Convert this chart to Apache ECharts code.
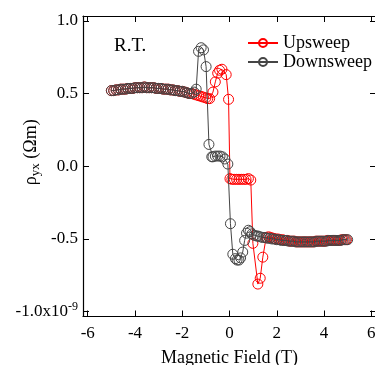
<!DOCTYPE html>
<html>
<head>
<meta charset="utf-8">
<script src="https://cdn.jsdelivr.net/npm/echarts@6/dist/echarts.min.js"></script>
<style>
	html, body { margin: 0; padding: 0; background: #fff; }
	#chart { width: 375px; height: 365px; }
</style>
</head>
<body>
<div id="chart"></div>
<script>
// values in units of 1e-9 Ohm m
const upField = [
	-5.0, -4.9, -4.8, -4.7, -4.6, -4.5, -4.4, -4.3, -4.2, -4.1,
	-4.0, -3.9, -3.8, -3.7, -3.6, -3.5, -3.4, -3.3, -3.2, -3.1,
	-3.0, -2.9, -2.8, -2.7, -2.6, -2.5, -2.4, -2.3, -2.2, -2.1,
	-2.0, -1.9, -1.8, -1.7, -1.6, -1.5, -1.4, -1.3, -1.2, -1.1,
	-1.0, -0.92, -0.84, -0.7, -0.6, -0.5, -0.42, -0.32, -0.14, -0.04,
	0.02, 0.1, 0.2, 0.3, 0.4, 0.5, 0.6, 0.7, 0.8, 0.9,
	0.99, 1.2, 1.3, 1.41, 1.55, 1.65, 1.75, 1.85, 1.95, 2.05,
	2.15, 2.25, 2.35, 2.45, 2.55, 2.65, 2.75, 2.85, 2.95, 3.05,
	3.15, 3.25, 3.35, 3.45, 3.55, 3.65, 3.75, 3.85, 3.95, 4.05,
	4.15, 4.25, 4.35, 4.45, 4.55, 4.65, 4.75, 4.85, 4.95,
]
const upRho = [
	0.52, 0.52, 0.525, 0.525, 0.53, 0.53, 0.53, 0.535, 0.535, 0.535,
	0.54, 0.54, 0.54, 0.54, 0.545, 0.54, 0.54, 0.54, 0.54, 0.535,
	0.535, 0.535, 0.53, 0.53, 0.53, 0.525, 0.525, 0.52, 0.52, 0.515,
	0.515, 0.51, 0.505, 0.5, 0.5, 0.495, 0.49, 0.485, 0.48, 0.475,
	0.47, 0.465, 0.465, 0.51, 0.58, 0.64, 0.66, 0.667, 0.63, 0.46,
	-0.085, -0.09, -0.09, -0.09, -0.09, -0.09, -0.09, -0.09, -0.085, -0.095,
	-0.53, -0.81, -0.77, -0.625, -0.49, -0.485, -0.49, -0.495, -0.5, -0.5,
	-0.505, -0.505, -0.51, -0.51, -0.515, -0.515, -0.515, -0.52, -0.52, -0.52,
	-0.52, -0.52, -0.52, -0.52, -0.52, -0.515, -0.515, -0.515, -0.515, -0.515,
	-0.51, -0.51, -0.51, -0.51, -0.51, -0.51, -0.505, -0.505, -0.505,
]

const downField = [
	5.0, 4.9, 4.8, 4.7, 4.6, 4.5, 4.4, 4.3, 4.2, 4.1,
	4.0, 3.9, 3.8, 3.7, 3.6, 3.5, 3.4, 3.3, 3.2, 3.1,
	3.0, 2.9, 2.8, 2.7, 2.6, 2.5, 2.4, 2.3, 2.2, 2.1,
	2.0, 1.9, 1.8, 1.7, 1.6, 1.5, 1.4, 1.3, 1.2, 1.15,
	1.05, 0.95, 0.87, 0.8, 0.72, 0.64, 0.56, 0.47, 0.4, 0.32,
	0.25, 0.14, 0.04, -0.07, -0.2, -0.3, -0.4, -0.5, -0.6, -0.7,
	-0.75, -0.87, -0.99, -1.1, -1.2, -1.31, -1.41, -1.5, -1.6, -1.7,
	-1.8, -1.9, -2.0, -2.1, -2.2, -2.3, -2.4, -2.5, -2.6, -2.7,
	-2.8, -2.9, -3.0, -3.1, -3.2, -3.3, -3.4, -3.5, -3.6, -3.7,
	-3.8, -3.9, -4.0, -4.1, -4.2, -4.3, -4.4, -4.5, -4.6, -4.7,
	-4.8, -4.9, -5.0,
]
const downRho = [
	-0.505, -0.505, -0.505, -0.51, -0.51, -0.51, -0.51, -0.51, -0.51, -0.515,
	-0.515, -0.515, -0.515, -0.515, -0.52, -0.52, -0.52, -0.52, -0.52, -0.52,
	-0.52, -0.52, -0.52, -0.515, -0.515, -0.515, -0.51, -0.51, -0.51, -0.505,
	-0.505, -0.5, -0.5, -0.495, -0.495, -0.49, -0.49, -0.485, -0.48, -0.48,
	-0.475, -0.465, -0.45, -0.44, -0.46, -0.51, -0.59, -0.63, -0.645, -0.645,
	-0.635, -0.605, -0.395, 0.015, 0.05, 0.065, 0.07, 0.07, 0.07, 0.065,
	0.065, 0.15, 0.685, 0.8, 0.815, 0.79, 0.53, 0.51, 0.5, 0.5,
	0.505, 0.51, 0.515, 0.515, 0.52, 0.52, 0.525, 0.525, 0.53, 0.53,
	0.53, 0.535, 0.535, 0.535, 0.54, 0.54, 0.54, 0.54, 0.545, 0.54,
	0.54, 0.54, 0.54, 0.535, 0.535, 0.535, 0.53, 0.53, 0.53, 0.525,
	0.525, 0.52, 0.52,
]

const xTicks = [-6, -4, -2, 0, 2, 4, 6]
const yTicks = [-1, -0.5, 0, 0.5, 1]

const FONT = '"Liberation Serif", "Times New Roman", serif'
const RED = '#ff0000'
const GREY = '#454545'
const CLEAR = 'rgba(255,255,255,0)'

const chart = echarts.init(document.getElementById('chart'))

const zip = (xs, ys) => xs.map((x, i) => [x, ys[i]])

const tick = { show: true, inside: true, length: 6, lineStyle: { color: '#000', width: 1 } }
const line = { show: true, onZero: false, lineStyle: { color: '#000', width: 1.2 } }

chart.setOption({
	animation: false,
	backgroundColor: '#fff',
	textStyle: { fontFamily: FONT },
	title: {
		text: 'R.T.',
		left: 109,
		top: 32,
		textStyle: { fontFamily: FONT, fontSize: 19, fontWeight: 'normal', color: '#000' },
	},
	legend: {
		orient: 'vertical',
		left: 247,
		top: 34,
		padding: 0,
		itemWidth: 30,
		itemHeight: 10,
		itemGap: 1,
		data: ['Upsweep', 'Downsweep'],
		textStyle: { fontFamily: FONT, fontSize: 18, color: '#000' },
	},
	grid: { left: 83, right: -1, top: 16, bottom: 48.5, containLabel: false, outerBoundsMode: 'none' },
	xAxis: [{
		type: 'value',
		min: -6.2,
		max: 6.2,
		position: 'bottom',
		axisLine: line,
		axisTick: Object.assign({}, tick, { customValues: xTicks }),
		splitLine: { show: false },
		axisLabel: {
			customValues: xTicks,
			margin: 9,
			fontFamily: FONT, fontSize: 17, color: '#000',
		},
		name: 'Magnetic Field (T)',
		nameLocation: 'middle',
		nameGap: 33,
		nameMoveOverlap: false,
		nameTextStyle: { fontFamily: FONT, fontSize: 18, color: '#000' },
	}, {
		type: 'value',
		min: -6.2,
		max: 6.2,
		position: 'top',
		axisLine: line,
		axisTick: Object.assign({}, tick, { customValues: xTicks }),
		axisLabel: { show: false },
		splitLine: { show: false },
	}],
	yAxis: [{
		type: 'value',
		min: -1.033,
		max: 1.033,
		position: 'left',
		axisLine: line,
		axisTick: Object.assign({}, tick, { customValues: yTicks }),
		splitLine: { show: false },
		axisLabel: {
			customValues: yTicks,
			margin: 5,
			formatter: v => v === -1 ? '{a|-1.0x10}{b|-9}' : '{a|' + v.toFixed(1) + '}',
			rich: {
				a: { fontFamily: FONT, fontSize: 17, color: '#000' },
				b: { fontFamily: FONT, fontSize: 12, color: '#000', padding: [0, 0, 9, 0] },
			},
		},
		name: '{r|ρ}{s|yx}{r| (Ωm)}',
		nameLocation: 'middle',
		nameGap: 41,
		nameMoveOverlap: false,
		nameTextStyle: {
			padding: [0, 0, 0, 28],
			rich: {
				r: { fontFamily: FONT, fontSize: 18, color: '#000' },
				s: { fontFamily: FONT, fontSize: 13, color: '#000', padding: [8, 0, 0, 0] },
			},
		},
	}, {
		type: 'value',
		min: -1.033,
		max: 1.033,
		position: 'right',
		axisLine: line,
		axisTick: Object.assign({}, tick, { customValues: yTicks }),
		axisLabel: { show: false },
		splitLine: { show: false },
	}],
	series: [{
		name: 'Upsweep',
		type: 'line',
		data: zip(upField, upRho),
		symbol: 'circle',
		symbolSize: 10,
		color: RED,
		lineStyle: { color: RED, width: 1 },
		itemStyle: { color: CLEAR, borderColor: RED, borderWidth: 1 },
		z: 2,
	}, {
		name: 'Downsweep',
		type: 'line',
		data: zip(downField, downRho),
		symbol: 'circle',
		symbolSize: 10,
		color: GREY,
		lineStyle: { color: GREY, width: 1 },
		itemStyle: { color: CLEAR, borderColor: GREY, borderWidth: 1 },
		z: 3,
	}],
})
</script>
</body>
</html>
